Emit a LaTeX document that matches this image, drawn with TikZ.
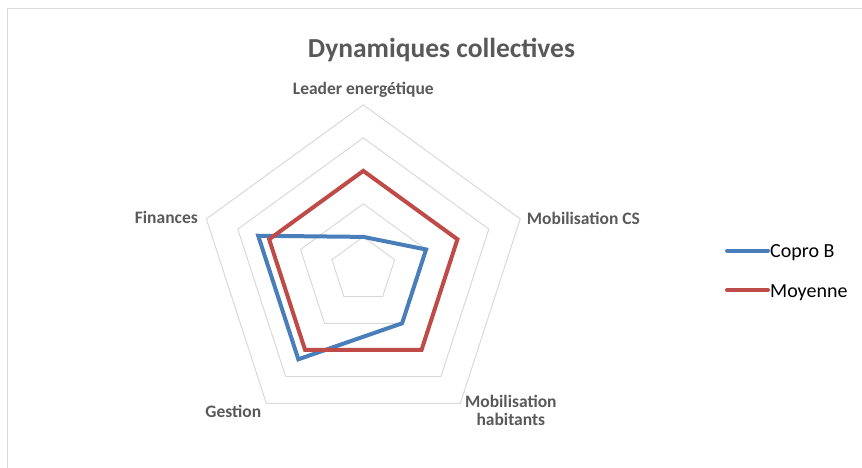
\documentclass[tikz,border=0pt]{standalone}
\usepackage{fontspec}
\setmainfont{Carlito}
\usepackage{tikz}
\usetikzlibrary{positioning}
\definecolor{gridgray}{HTML}{D9D9D9}
\definecolor{labelgray}{HTML}{595959}
\definecolor{coproblue}{HTML}{4A7EBB}
\definecolor{moyred}{HTML}{BE4B48}
\tikzstyle{ring} = [draw=gridgray, line width=1pt, line join=miter]
\tikzstyle{axislabel} = [font=\bfseries\fontsize{17.5}{18}\selectfont, text=labelgray, inner sep=0pt]
\tikzstyle{title} = [font=\bfseries\fontsize{27.5}{30}\selectfont, text=labelgray, inner sep=0pt]
\tikzstyle{serie} = [line width=4pt, line join=miter]
\tikzstyle{legendline} = [line width=4pt, line cap=round]
\tikzstyle{legendtext} = [font=\fontsize{20}{22}\selectfont, text=black, inner sep=0pt, anchor=base west]

\begin{document}
\begin{tikzpicture}[x=1pt, y=1pt]
    \useasboundingbox (0,0) rectangle (862,468);
    % We start with the frame of the chart
    \draw [gridgray, line width=1pt] (7,0) -- (7,459) -- (862,459);
    \node [title, anchor=base] (title) at (441.5,410) {Dynamiques collectives};
    \begin{scope}[shift={(363.3,198.1)}]
        % The grid rings, one per level
        \foreach \lvl in {1,...,5}
            \draw [ring] (90:\lvl*33) -- (18:\lvl*33) -- (-54:\lvl*33) -- (-126:\lvl*33) -- (162:\lvl*33) -- cycle;
        % The ends of the axes
        \coordinate (lead) at (90:165);
        \coordinate (cs) at (18:165);
        \coordinate (hab) at (-54:165);
        \coordinate (ges) at (-126:165);
        \coordinate (fin) at (162:165);
        % Points of Copro B
        \coordinate (b1) at (90:33);
        \coordinate (b2) at (18:66);
        \coordinate (b3) at (-54:66);
        \coordinate (b4) at (-126:110.5);
        \coordinate (b5) at (162:110.5);
        % Points of Moyenne
        \coordinate (m1) at (90:99);
        \coordinate (m2) at (18:99);
        \coordinate (m3) at (-54:99);
        \coordinate (m4) at (-126:99);
        \coordinate (m5) at (162:99);
    \end{scope}
    % We draw the two series
    \draw [serie, coproblue] (b1) -- (b2) -- (b3) -- (b4) -- (b5) -- cycle;
    \draw [serie, moyred] (m1) -- (m2) -- (m3) -- (m4) -- (m5) -- cycle;
    % Then the axis labels
    \node [axislabel, anchor=base] (leadlbl) at ([yshift=10pt]lead) {Leader energétique};
    \node [axislabel, anchor=base west] (cslbl) at ([xshift=6.5pt, yshift=-5.4pt]cs) {Mobilisation CS};
    \node [axislabel, anchor=north, align=center] (hablbl) at ([xshift=50.5pt, yshift=8.7pt]hab) {Mobilisation\\habitants};
    \node [axislabel, anchor=base] (geslbl) at ([xshift=-33pt, yshift=-14pt]ges) {Gestion};
    \node [axislabel, anchor=base east] (finlbl) at ([xshift=-8.4pt, yshift=-5pt]fin) {Finances};
    % And the legend
    \coordinate (bleg) at (727,217.3);
    \coordinate (bleg2) at (768,217.3);
    \coordinate (mleg) at (727,178);
    \coordinate (mleg2) at (768,178);
    \draw [legendline, coproblue] (bleg) -- (bleg2);
    \draw [legendline, moyred] (mleg) -- (mleg2);
    \node [legendtext] (blegtext) at (770,210) {Copro B};
    \node [legendtext] (mlegtext) at (770,170) {Moyenne};
\end{tikzpicture}
\end{document}
